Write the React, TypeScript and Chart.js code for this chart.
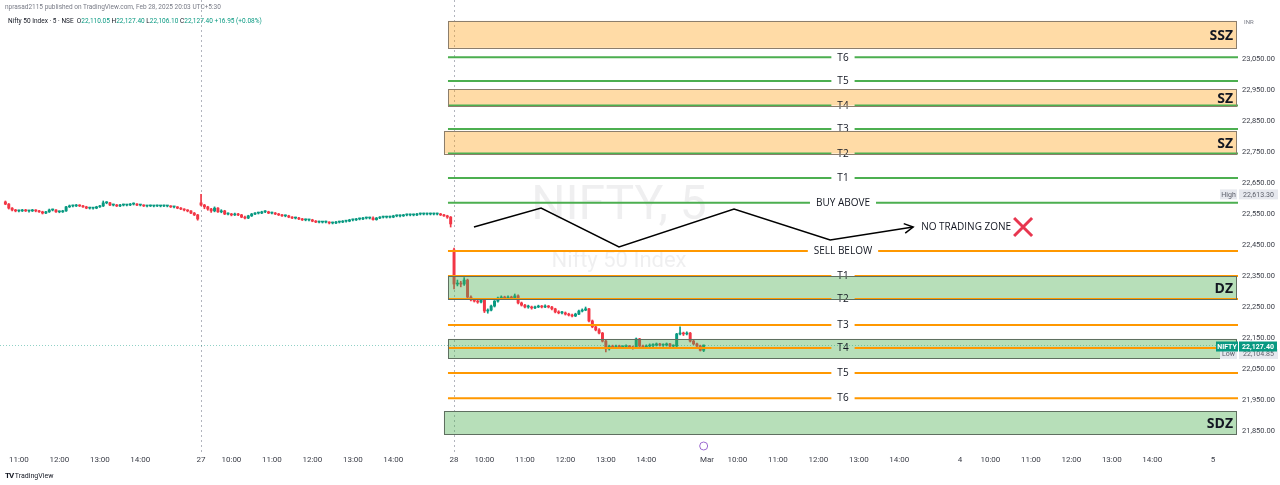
import React, { useEffect, useRef } from "react";
import { Chart, registerables } from "chart.js";

Chart.register(...registerables);

// ---------- time axis ----------
const BARS_PER_DAY = 75; // 5-minute bars, 09:15 - 15:30
const dayLabels = ["25", "27", "28", "Mar", "4", "5"];
const hourLabels = ["10:00", "11:00", "12:00", "13:00", "14:00"];
const hourBarOffsets = [9, 21, 33, 45, 57];
const sessionBreakBars = [75, 150];
const viewFromBar = 15.4;
const viewToBar = 382.4;

// ---------- price axis ----------
const priceMin = 21788.7;
const priceMax = 23240.4;
const priceTicks = [21850, 21950, 22050, 22150, 22250, 22350, 22450, 22550, 22650, 22750, 22850, 22950, 23050];

// ---------- candles [open, high, low, close] ----------
const day0FirstBar = 17;
const day0Candles = [
  [22589, 22592, 22580, 22582], [22582, 22584, 22566, 22569], [22569, 22571, 22560, 22563], [22563, 22565, 22557, 22560],
  [22560, 22563, 22557, 22560], [22560, 22565, 22558, 22563], [22563, 22565, 22558, 22560], [22560, 22562, 22556, 22560],
  [22560, 22565, 22558, 22563], [22563, 22564, 22557, 22560], [22560, 22562, 22555, 22557], [22557, 22559, 22550, 22553],
  [22553, 22559, 22551, 22557], [22557, 22566, 22555, 22563], [22563, 22566, 22560, 22563], [22563, 22564, 22555, 22557],
  [22557, 22560, 22554, 22557], [22557, 22562, 22555, 22560], [22560, 22575, 22558, 22573], [22573, 22579, 22571, 22576],
  [22576, 22579, 22573, 22576], [22576, 22581, 22574, 22579], [22579, 22580, 22574, 22576], [22576, 22578, 22571, 22573],
  [22573, 22575, 22567, 22569], [22569, 22572, 22566, 22569], [22569, 22571, 22566, 22569], [22569, 22575, 22567, 22573],
  [22573, 22578, 22571, 22576], [22576, 22592, 22574, 22586], [22586, 22590, 22583, 22586], [22586, 22588, 22577, 22579],
  [22579, 22582, 22576, 22579], [22579, 22581, 22574, 22576], [22576, 22581, 22574, 22579], [22579, 22582, 22576, 22579],
  [22579, 22581, 22576, 22579], [22579, 22584, 22577, 22582], [22582, 22586, 22579, 22582], [22582, 22584, 22577, 22579],
  [22579, 22581, 22576, 22579], [22579, 22580, 22574, 22576], [22576, 22578, 22573, 22576], [22576, 22579, 22574, 22576],
  [22576, 22578, 22573, 22576], [22576, 22579, 22574, 22576], [22576, 22578, 22573, 22576], [22576, 22579, 22574, 22576],
  [22576, 22578, 22573, 22576], [22576, 22577, 22571, 22573], [22573, 22575, 22570, 22573], [22573, 22574, 22567, 22569],
  [22569, 22571, 22564, 22566], [22566, 22567, 22560, 22563], [22563, 22564, 22557, 22560], [22560, 22561, 22551, 22553],
  [22553, 22555, 22545, 22547], [22547, 22549, 22530, 22534],
];
const day1FirstBar = 75;
const day1Candles = [
  [22586, 22613.3, 22576, 22579], [22579, 22581, 22567, 22573], [22573, 22575, 22562, 22566], [22566, 22568, 22555, 22560],
  [22560, 22573, 22557, 22569], [22569, 22571, 22555, 22557], [22557, 22564, 22554, 22560], [22560, 22562, 22548, 22550],
  [22550, 22554, 22547, 22550], [22550, 22552, 22544, 22547], [22547, 22553, 22545, 22550], [22550, 22552, 22545, 22547],
  [22547, 22549, 22538, 22540], [22540, 22543, 22534, 22537], [22537, 22546, 22535, 22544], [22544, 22552, 22542, 22550],
  [22550, 22555, 22548, 22553], [22553, 22556, 22550, 22553], [22553, 22559, 22551, 22557], [22557, 22561, 22554, 22557],
  [22557, 22559, 22551, 22553], [22553, 22556, 22550, 22553], [22553, 22555, 22548, 22550], [22550, 22552, 22545, 22547],
  [22547, 22549, 22542, 22544], [22544, 22547, 22541, 22544], [22544, 22546, 22538, 22540], [22540, 22542, 22535, 22537],
  [22537, 22540, 22534, 22537], [22537, 22539, 22532, 22534], [22534, 22536, 22529, 22531], [22531, 22534, 22528, 22531],
  [22531, 22533, 22528, 22531], [22531, 22533, 22525, 22527], [22527, 22529, 22522, 22524], [22524, 22527, 22521, 22524],
  [22524, 22526, 22521, 22524], [22524, 22527, 22521, 22524], [22524, 22525, 22518, 22521], [22521, 22524, 22518, 22521],
  [22521, 22526, 22519, 22524], [22524, 22527, 22521, 22524], [22524, 22529, 22522, 22527], [22527, 22530, 22524, 22527],
  [22527, 22533, 22525, 22531], [22531, 22534, 22528, 22531], [22531, 22536, 22529, 22534], [22534, 22537, 22531, 22534],
  [22534, 22539, 22532, 22537], [22537, 22540, 22534, 22537], [22537, 22540, 22534, 22537], [22537, 22541, 22530, 22532],
  [22532, 22539, 22530, 22537], [22537, 22542, 22535, 22540], [22540, 22543, 22537, 22540], [22540, 22543, 22537, 22540],
  [22540, 22543, 22537, 22540], [22540, 22546, 22538, 22544], [22544, 22547, 22541, 22544], [22544, 22547, 22541, 22544],
  [22544, 22549, 22542, 22547], [22547, 22550, 22544, 22547], [22547, 22550, 22544, 22547], [22547, 22550, 22544, 22547],
  [22547, 22552, 22545, 22550], [22550, 22553, 22547, 22550], [22550, 22553, 22547, 22550], [22550, 22553, 22547, 22550],
  [22550, 22553, 22547, 22550], [22550, 22553, 22547, 22550], [22550, 22553, 22547, 22550], [22550, 22552, 22545, 22547],
  [22547, 22549, 22542, 22544], [22544, 22546, 22536, 22540], [22540, 22542, 22508, 22518],
];
const day2FirstBar = 150;
const day2Candles = [
  [22434, 22440, 22308, 22324], [22324, 22337, 22318, 22327], [22327, 22333, 22315, 22324], [22324, 22345, 22320, 22337],
  [22337, 22340, 22280, 22282], [22282, 22286, 22270, 22273], [22273, 22278, 22266, 22269], [22269, 22275, 22262, 22266],
  [22266, 22276, 22263, 22273], [22273, 22276, 22232, 22237], [22237, 22244, 22230, 22240], [22240, 22256, 22237, 22253],
  [22253, 22271, 22250, 22269], [22269, 22282, 22266, 22279], [22279, 22286, 22276, 22282], [22282, 22285, 22274, 22279],
  [22279, 22286, 22276, 22282], [22282, 22285, 22275, 22279], [22279, 22292, 22277, 22286], [22286, 22289, 22260, 22263],
  [22263, 22266, 22253, 22256], [22256, 22259, 22247, 22250], [22250, 22256, 22246, 22250], [22250, 22253, 22243, 22247],
  [22247, 22253, 22245, 22250], [22250, 22256, 22248, 22253], [22253, 22255, 22247, 22250], [22250, 22257, 22248, 22253],
  [22253, 22255, 22247, 22250], [22250, 22252, 22241, 22244], [22244, 22246, 22231, 22234], [22234, 22238, 22228, 22231],
  [22231, 22236, 22228, 22231], [22231, 22234, 22224, 22227], [22227, 22230, 22221, 22224], [22224, 22227, 22218, 22221],
  [22221, 22230, 22219, 22227], [22227, 22240, 22225, 22237], [22237, 22244, 22234, 22240], [22240, 22250, 22238, 22244],
  [22244, 22246, 22202, 22205], [22205, 22208, 22183, 22186], [22186, 22190, 22173, 22176], [22176, 22180, 22163, 22166],
  [22166, 22168, 22137, 22140], [22140, 22143, 22104.85, 22115], [22115, 22127, 22111, 22124], [22124, 22127, 22117, 22121],
  [22121, 22127, 22118, 22124], [22124, 22127, 22117, 22121], [22121, 22125, 22116, 22121], [22121, 22128, 22118, 22124],
  [22124, 22126, 22116, 22121], [22121, 22124, 22114, 22118], [22118, 22150, 22116, 22147], [22147, 22149, 22120, 22124],
  [22124, 22127, 22117, 22121], [22121, 22128, 22118, 22124], [22124, 22131, 22121, 22127], [22127, 22131, 22122, 22127],
  [22127, 22134, 22124, 22131], [22131, 22133, 22124, 22127], [22127, 22131, 22123, 22127], [22127, 22134, 22124, 22131],
  [22131, 22133, 22122, 22124], [22124, 22128, 22120, 22124], [22124, 22165, 22122, 22163], [22163, 22186, 22160, 22166],
  [22166, 22169, 22158, 22163], [22163, 22170, 22160, 22166], [22166, 22168, 22137, 22140], [22140, 22143, 22128, 22131],
  [22131, 22134, 22121, 22124], [22124, 22127, 22108, 22110.45], [22110.05, 22127.4, 22106.1, 22127.4],
];

// ---------- drawings ----------
const levelsFromBar = 148.2;
const supplyZones = [
  { name: "SSZ", from: 148.2, low: 23086, high: 23173 },
  { name: "SZ", from: 148.2, low: 22900, high: 22953 },
  { name: "SZ", from: 147.0, low: 22745, high: 22818 },
];
const demandZones = [
  { name: "DZ", from: 148.2, low: 22276, high: 22350 },
  { name: "", from: 148.2, low: 22085, high: 22147 },
  { name: "SDZ", from: 147.0, low: 21840, high: 21914 },
];
const upsideLevelNames = ["T6", "T5", "T4", "T3", "T2", "T1", "BUY ABOVE"];
const upsideLevelPrices = [23056, 22979, 22900, 22824, 22745, 22666, 22586];
const downsideLevelNames = ["SELL BELOW", "T1", "T2", "T3", "T4", "T5", "T6"];
const downsideLevelPrices = [22431, 22350, 22276, 22192, 22118, 22037, 21956];
const pathBars = [155.9, 175.8, 198.9, 233.0, 261.5, 286.1];
const pathPrices = [22508, 22569, 22444, 22566, 22466, 22508];
const pathNote = "NO TRADING ZONE";
const watermarkTitle = "NIFTY, 5";
const watermarkSubtitle = "Nifty 50 Index";
const symbolTag = "NIFTY";
const currency = "INR";

// ---------- styles ----------
const UP = "#089981";
const DOWN = "#F23645";
const GREEN_LINE = "#4CAF50";
const ORANGE_LINE = "#FF9800";
const SUPPLY_FILL = "rgba(255,152,0,0.35)";
const SUPPLY_BORDER = "#8c7e6c";
const DEMAND_FILL = "rgba(76,175,80,0.4)";
const DEMAND_BORDER = "#5f6f60";

type Candle = { i: number; o: number; h: number; l: number; c: number };
const candles: Candle[] = [];
[[day0FirstBar, day0Candles], [day1FirstBar, day1Candles], [day2FirstBar, day2Candles]].forEach(([start, list]: any) => {
  (list as number[][]).forEach((k, j) => candles.push({ i: start + j, o: k[0], h: k[1], l: k[2], c: k[3] }));
});
const last = candles[candles.length - 1];
const prev = candles[candles.length - 2];
const highest = Math.max(...candles.map((k) => k.h));
const lowest = Math.min(...candles.filter((k) => k.i >= day2FirstBar).map((k) => k.l));

const timeTicks: { value: number; label: string }[] = [];
dayLabels.forEach((d, di) => {
  timeTicks.push({ value: di * BARS_PER_DAY, label: d });
  hourLabels.forEach((h, hi) => timeTicks.push({ value: di * BARS_PER_DAY + hourBarOffsets[hi], label: h }));
});
const visibleTimeTicks = timeTicks.filter((t) => t.value >= viewFromBar && t.value <= viewToBar);

const fmt = (v: number) => v.toLocaleString("en-US", { minimumFractionDigits: 2, maximumFractionDigits: 2 });

function drawLevel(ctx: CanvasRenderingContext2D, x0: number, x1: number, y: number, label: string, color: string) {
  ctx.font = '10px "Open Sans"';
  const w = ctx.measureText(label).width;
  const cx = (x0 + x1) / 2;
  const gap = w / 2 + 6;
  ctx.strokeStyle = color;
  ctx.lineWidth = 2;
  ctx.setLineDash([]);
  ctx.beginPath();
  ctx.moveTo(x0, y);
  ctx.lineTo(cx - gap, y);
  ctx.moveTo(cx + gap, y);
  ctx.lineTo(x1, y);
  ctx.stroke();
  ctx.fillStyle = "#131722";
  ctx.textAlign = "center";
  ctx.textBaseline = "middle";
  ctx.fillText(label, cx, y + 0.5);
}

function tag(ctx: CanvasRenderingContext2D, x: number, y: number, w: number, text: string, bg: string, fg: string, bold = false) {
  ctx.fillStyle = bg;
  ctx.fillRect(x, y - 5, w, 10);
  ctx.fillStyle = fg;
  ctx.font = (bold ? "bold " : "") + "7px Roboto";
  ctx.textAlign = "center";
  ctx.textBaseline = "middle";
  ctx.fillText(text, x + w / 2, y + 0.5);
}

const drawingsPlugin = {
  id: "drawings",
  beforeDatasetsDraw(chart: any) {
    const { ctx, chartArea: a, scales } = chart;
    const x = scales.x, y = scales.y;
    ctx.save();
    const cx = (a.left + a.right) / 2;
    ctx.fillStyle = "rgba(120,123,134,0.12)";
    ctx.textAlign = "center";
    ctx.textBaseline = "middle";
    ctx.font = "48px Roboto";
    ctx.fillText(watermarkTitle, cx, a.top + a.height * 0.46);
    ctx.font = "22px Roboto";
    ctx.fillText(watermarkSubtitle, cx, a.top + a.height * 0.582);

    ctx.strokeStyle = "#b2b5be";
    ctx.lineWidth = 1;
    ctx.setLineDash([2, 3]);
    sessionBreakBars.forEach((b) => {
      const px = Math.round(x.getPixelForValue(b)) + 0.5;
      ctx.beginPath();
      ctx.moveTo(px, a.top);
      ctx.lineTo(px, a.bottom + 4);
      ctx.stroke();
    });
    const py = Math.round(y.getPixelForValue(last.c)) + 0.5;
    ctx.strokeStyle = "rgba(8,153,129,0.45)";
    ctx.setLineDash([1, 2]);
    ctx.beginPath();
    ctx.moveTo(a.left, py);
    ctx.lineTo(a.right, py);
    ctx.stroke();
    ctx.restore();
  },
  afterDatasetsDraw(chart: any) {
    const { ctx, chartArea: a, scales } = chart;
    const x = scales.x, y = scales.y;
    ctx.save();
    const zones = [
      ...supplyZones.map((z) => ({ ...z, fill: SUPPLY_FILL, border: SUPPLY_BORDER })),
      ...demandZones.map((z) => ({ ...z, fill: DEMAND_FILL, border: DEMAND_BORDER })),
    ];
    zones.forEach((z) => {
      const x0 = x.getPixelForValue(z.from);
      const y0 = y.getPixelForValue(z.high);
      const y1 = y.getPixelForValue(z.low);
      ctx.fillStyle = z.fill;
      ctx.fillRect(x0, y0, a.right - 1 - x0, y1 - y0);
    });
    const lx0 = x.getPixelForValue(levelsFromBar);
    upsideLevelNames.forEach((n, k) => drawLevel(ctx, lx0, a.right, y.getPixelForValue(upsideLevelPrices[k]), n, GREEN_LINE));
    downsideLevelNames.forEach((n, k) => drawLevel(ctx, lx0, a.right, y.getPixelForValue(downsideLevelPrices[k]), n, ORANGE_LINE));
    zones.forEach((z) => {
      const x0 = Math.round(x.getPixelForValue(z.from)) + 0.5;
      const y0 = Math.round(y.getPixelForValue(z.high)) + 0.5;
      const y1 = Math.round(y.getPixelForValue(z.low)) + 0.5;
      ctx.strokeStyle = z.border;
      ctx.lineWidth = 1;
      ctx.setLineDash([]);
      ctx.strokeRect(x0, y0, a.right - 1.5 - x0, y1 - y0);
      if (z.name) {
        ctx.fillStyle = "#131722";
        ctx.font = 'bold 14px "Open Sans"';
        ctx.textAlign = "right";
        ctx.textBaseline = "middle";
        ctx.fillText(z.name, a.right - 5, (y0 + y1) / 2 + 1);
      }
    });

    // arrow head + note
    const pts = chart.getDatasetMeta(2).data;
    const tip = pts[pts.length - 1];
    const from = pts[pts.length - 2];
    const ang = Math.atan2(tip.y - from.y, tip.x - from.x);
    ctx.strokeStyle = "#000";
    ctx.lineWidth = 1.5;
    ctx.beginPath();
    ctx.moveTo(tip.x - 10 * Math.cos(ang - 0.5), tip.y - 10 * Math.sin(ang - 0.5));
    ctx.lineTo(tip.x, tip.y);
    ctx.lineTo(tip.x - 10 * Math.cos(ang + 0.5), tip.y - 10 * Math.sin(ang + 0.5));
    ctx.stroke();
    ctx.font = '10px "Open Sans"';
    ctx.fillStyle = "#131722";
    ctx.textAlign = "left";
    ctx.textBaseline = "middle";
    const tx = tip.x + 8;
    ctx.fillText(pathNote, tx, tip.y);
    const xc = tx + ctx.measureText(pathNote).width + 12;
    ctx.strokeStyle = "#E8364F";
    ctx.lineWidth = 3;
    ctx.beginPath();
    ctx.moveTo(xc - 9, tip.y - 9);
    ctx.lineTo(xc + 9, tip.y + 9);
    ctx.moveTo(xc + 9, tip.y - 9);
    ctx.lineTo(xc - 9, tip.y + 9);
    ctx.stroke();

    // event marker
    const ex = x.getPixelForValue(last.i);
    ctx.lineWidth = 1;
    ctx.strokeStyle = "#9c6ad0";
    ctx.fillStyle = "#fff";
    ctx.beginPath();
    ctx.arc(ex, a.bottom - 4, 4, 0, Math.PI * 2);
    ctx.fill();
    ctx.stroke();

    // axis tags
    ctx.fillStyle = "#787b86";
    ctx.font = "6px Roboto";
    ctx.textAlign = "left";
    ctx.textBaseline = "middle";
    ctx.fillText(currency, a.right + 6, a.top + 22);
    const hy = y.getPixelForValue(highest);
    tag(ctx, a.right - 18, hy, 17, "High", "#e6e8ee", "#5d606b");
    tag(ctx, a.right + 1, hy, 39, fmt(highest), "#e6e8ee", "#5d606b");
    const ly = y.getPixelForValue(lowest) + 2;
    tag(ctx, a.right - 18, ly, 17, "Low", "#e6e8ee", "#5d606b");
    tag(ctx, a.right + 1, ly, 39, fmt(lowest), "#e6e8ee", "#5d606b");
    const cy = y.getPixelForValue(last.c) + 1.5;
    tag(ctx, a.right - 22, cy, 22, symbolTag, UP, "#fff", true);
    tag(ctx, a.right + 1, cy, 38, fmt(last.c), UP, "#fff", true);
    ctx.restore();
  },
};

export default function App() {
  const ref = useRef<HTMLCanvasElement>(null);
  useEffect(() => {
    const chart = new Chart(ref.current as HTMLCanvasElement, {
      type: "bar",
      data: {
        datasets: [
          {
            type: "bar",
            order: 1,
            data: candles.map((k) => ({ x: k.i, y: [k.o, k.c], up: k.c >= k.o })) as any,
            backgroundColor: (c: any) => (c.raw && c.raw.up ? UP : DOWN),
            barThickness: 2.3,
            minBarLength: 1,
            grouped: false,
          },
          {
            type: "bar",
            order: 2,
            data: candles.map((k) => ({ x: k.i, y: [k.l, k.h], up: k.c >= k.o })) as any,
            backgroundColor: (c: any) => (c.raw && c.raw.up ? UP : DOWN),
            barThickness: 1,
            grouped: false,
          },
          {
            type: "line",
            order: 0,
            data: pathBars.map((b, k) => ({ x: b, y: pathPrices[k] })) as any,
            borderColor: "#000",
            borderWidth: 1.5,
            pointRadius: 0,
            tension: 0,
            fill: false,
          },
        ],
      },
      options: {
        responsive: false,
        animation: false,
        events: [],
        layout: { padding: 0 },
        plugins: { legend: { display: false }, tooltip: { enabled: false }, title: { display: false } },
        scales: {
          x: {
            type: "linear",
            min: viewFromBar,
            max: viewToBar,
            offset: false,
            grid: { display: false, drawTicks: false },
            border: { display: false },
            afterBuildTicks: (s: any) => {
              s.ticks = visibleTimeTicks.map((t) => ({ value: t.value }));
            },
            afterFit: (s: any) => {
              s.height = 35;
              s.paddingLeft = 0;
              s.paddingRight = 0;
            },
            ticks: {
              autoSkip: false,
              maxRotation: 0,
              minRotation: 0,
              padding: 5,
              color: "#3b3e48",
              font: { family: "Roboto", size: 8 },
              callback: (_v: any, i: number) => visibleTimeTicks[i] ? visibleTimeTicks[i].label : "",
            },
          },
          y: {
            type: "linear",
            position: "right",
            min: priceMin,
            max: priceMax,
            grid: { display: false, drawTicks: false },
            border: { display: false },
            afterBuildTicks: (s: any) => {
              s.ticks = priceTicks.map((v) => ({ value: v }));
            },
            afterFit: (s: any) => {
              s.width = 42;
              s.paddingTop = 0;
              s.paddingBottom = 0;
            },
            ticks: {
              padding: 4,
              color: "#3b3e48",
              font: { family: "Roboto", size: 7.5 },
              callback: (v: any) => fmt(Number(v)),
            },
          },
        },
      },
      plugins: [drawingsPlugin],
    } as any);
    return () => chart.destroy();
  }, []);

  const change = last.c - prev.c;
  const pct = (change / prev.c) * 100;
  const g = { color: UP };
  return (
    <div style={{ position: "fixed", left: 0, top: 0, width: 1280, height: 485, background: "#fff", overflow: "hidden" }}>
      <canvas ref={ref} width={1280} height={485} style={{ position: "absolute", left: 0, top: 0 }} />
      <div style={{ position: "absolute", left: 5, top: 3, font: "6.5px Roboto", color: "#787b86", whiteSpace: "nowrap" }}>
        nprasad2115 published on TradingView.com, Feb 28, 2025 20:03 UTC+5:30
      </div>
      <div style={{ position: "absolute", left: 8, top: 17, font: "6.5px Roboto", color: "#131722", whiteSpace: "nowrap" }}>
        Nifty 50 Index · 5 · NSE&nbsp;&nbsp;O<span style={g}>{fmt(last.o)}</span> H<span style={g}>{fmt(last.h)}</span> L
        <span style={g}>{fmt(last.l)}</span> C<span style={g}>{fmt(last.c)}</span>{" "}
        <span style={g}>
          {change >= 0 ? "+" : ""}
          {change.toFixed(2)} ({pct >= 0 ? "+" : ""}
          {pct.toFixed(2)}%)
        </span>
      </div>
      <div style={{ position: "absolute", left: 5, top: 471, font: "7px Roboto", color: "#131722", whiteSpace: "nowrap" }}>
        <b style={{ fontSize: 8, letterSpacing: -1 }}>TV</b> TradingView
      </div>
    </div>
  );
}
